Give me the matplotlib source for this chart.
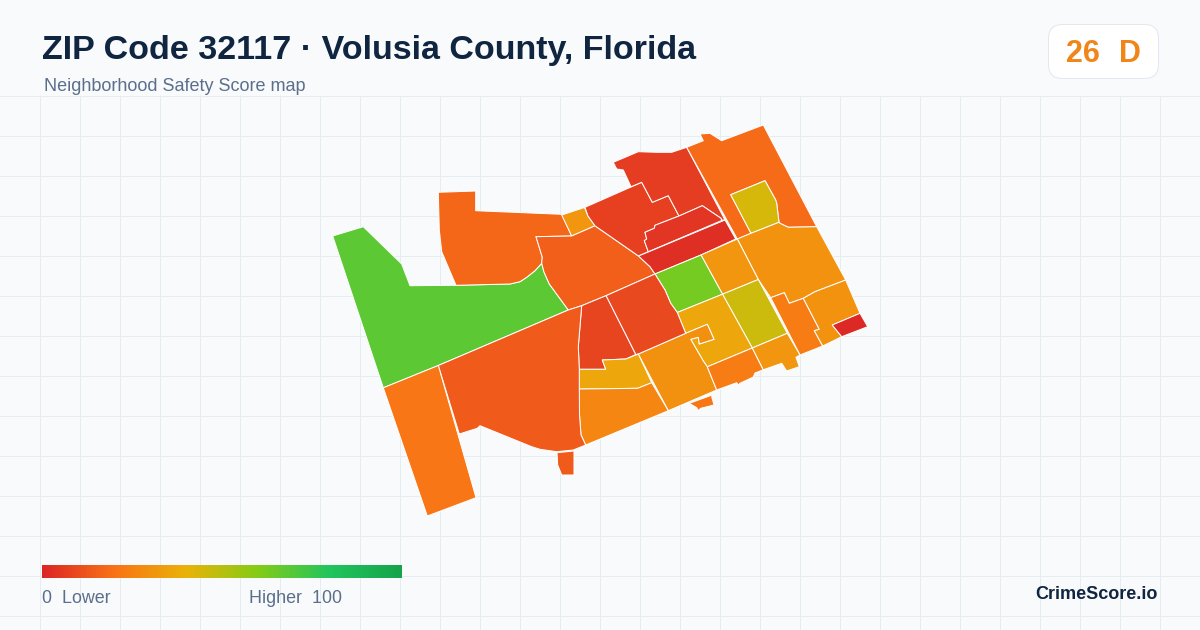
import numpy as np
import matplotlib
matplotlib.use("Agg")
import matplotlib.pyplot as plt
from matplotlib.colors import LinearSegmentedColormap
from matplotlib.patches import FancyBboxPatch, Polygon

plt.rcParams['font.family'] = ['Liberation Sans', 'DejaVu Sans']

TITLE = "ZIP Code 32117 · Volusia County, Florida"
SUBTITLE = "Neighborhood Safety Score map"
BADGE_SCORE = "26"
BADGE_GRADE = "D"
BRAND = "CrimeScore.io"
LEGEND_LEFT = "0  Lower"
LEGEND_RIGHT = "Higher  100"

stops = [0, .2, .4, .6, .8, 1]
stop_colors = ["#dc2626", "#f97316", "#eab308", "#84cc16", "#22c55e", "#16a34a"]
cmap = LinearSegmentedColormap.from_list("score", list(zip(stops, stop_colors)))

west_green = [(332.7,236),(363.3,226.7),(401.7,264),(410,285.7),(456,285.3),(510,284),(520,281.7),(526.7,277.3),(535,270.7),(541.7,263.3),(544,272),(549.3,284),(568.3,310),(438.3,365.5),(383.3,387.8)]
northwest = [(438.3,192.3),(475.7,191),(475.7,210.7),(561.7,214.3),(571.7,236),(536,236.7),(542.3,257.3),(541.7,263.3),(535,270.7),(526.7,277.3),(520,281.7),(510,284),(456,285.3),(441.7,251.7),(439.3,230)]
small_notch = [(561.7,215),(584.5,207.5),(588,216),(595,225.8),(571.7,236)]
north_center = [(536,236.7),(571.7,236),(595,225.8),(638.5,256),(650,266.7),(655,274),(606,295.7),(581.7,305.7),(568.3,310),(549.3,284),(544,272),(541.7,263.3),(542.3,257.3)]
north_red_west = [(585,207.3),(641.7,182.3),(652.3,202.3),(668.3,195.7),(679,216),(655,225.3),(654.3,228.3),(645,232.3),(646.7,239),(644.3,240.7),(648.3,251.7),(638.5,256),(595,225.8),(588,216)]
north_red_top = [(613.3,162.3),(638.3,151.7),(656.7,152.3),(671.7,152.3),(686.7,147.3),(725,220),(721.7,220),(721,218.3),(702.3,205.7),(679,216),(668.3,195.7),(652.3,202.3),(641.7,182.3),(631,186.7),(623.3,170),(616.7,169)]
north_red_inner = [(679,216),(702.3,205.7),(721,218.3),(721.7,220.5),(648.3,251.7),(644.3,240.7),(646.7,239),(645,232.3),(654.3,228.3),(655,225.3)]
north_red_band = [(648.3,252),(725,220),(735.7,239),(701,255),(655,274),(650,266.7),(638.5,256)]
northeast = [(686.7,147.3),(703.3,140.7),(700,134),(710,133.3),(721.7,140.7),(763.3,125),(816.7,226.7),(788.3,227.3),(780,223.3),(779,222.3),(776.7,203.3),(775.7,200),(765,180.7),(730.7,194.7),(751,233.3),(737.3,239)]
northeast_yellow = [(730.7,194.7),(765,180.7),(775.7,200),(776.7,203.3),(779,222.3),(751,233.3)]
east_large = [(737.3,239),(751,233.3),(779,222.3),(780,223.3),(788.3,227.3),(816.7,226.7),(845.7,280),(815,291.7),(803.3,298.3),(789.3,303.3),(784.3,292.7),(770.7,297.7),(758.3,279.5)]
east_block = [(701,255),(737.3,239),(758.3,279.5),(722.5,294.2)]
mid_green = [(655,274),(701,255),(722.5,294.2),(677.3,312.5),(670.7,303.3),(665,290)]
mid_olive = [(722.5,294.2),(758.3,279.5),(787.3,333.3),(752.3,348)]
mid_swirl_yellow = [(677.3,312.5),(722.5,294.2),(752.3,348),(707.3,366.8),(703.3,361),(690.7,339.3),(698.3,337.3),(699.3,344),(714,339.3),(707.3,324.3),(685.7,333.3)]
mid_swirl_orange = [(638.3,354),(685.7,333.3),(707.3,324.3),(714,339.3),(699.3,344),(698.3,337.3),(690.7,339.3),(703.3,361),(707.3,366.8),(716.7,390),(668.3,410.7)]
south_strip = [(707.3,366.8),(752.3,348),(763.3,369.8),(755,373),(753.3,377),(740,383.3),(738.3,385),(736.7,382.7),(716.7,390)]
south_island = [(689.3,403.3),(715,394),(711.7,396.7),(714,405),(700.7,408.3),(698.3,410.7),(696.7,407.7)]
center_east = [(606,295.7),(655,274),(665,290),(670.7,303.3),(677.3,312.5),(685.7,333.3),(638.3,354),(635.7,354.5)]
center_west = [(581.7,305.7),(606,295.7),(635.7,354.5),(626,359),(602.3,360),(605.7,369.3),(579.3,369.3),(578.3,346.7)]
center_yellow = [(579.3,369.3),(605.7,369.3),(602.3,360),(626,359),(638.3,354),(651.7,382.7),(637.7,388.3),(607.7,388.7),(579.3,389)]
center_south = [(579.3,389),(607.7,388.7),(637.7,388.3),(651.7,382.7),(668.3,410.7),(585.7,445),(581,435),(579.5,415)]
southwest_big = [(438.3,365.5),(568.3,310),(581.7,305.7),(578.3,346.7),(579.3,369.3),(579.3,389),(579.5,415),(581,435),(585.7,445),(573.3,450),(556.7,451.7),(540,449.3),(531.7,446.7),(480,425.7),(477.3,428.3),(459.3,434)]
south_wedge = [(557,452.7),(574,451),(574,475),(561.7,475),(557.7,465)]
southwest_strip = [(383.3,387.8),(438.3,365.5),(476,497.7),(427.3,516)]
se_orange = [(770.7,297.7),(784.3,292.7),(789.3,303.3),(803.3,298.3),(819.3,329.3),(814.3,330.7),(822.7,346),(800,355)]
se_block = [(803.3,298.3),(815,291.7),(845.7,280),(860,313.3),(832.3,325),(841.7,336.7),(822.7,346),(814.3,330.7),(819.3,329.3)]
se_red = [(832.3,325),(860,313.3),(867.7,326.7),(841.7,336.7)]
se_lower = [(752.3,348),(787.3,333.3),(800,355),(796,357.3),(799.3,366.7),(786.7,371),(781.7,363.3),(763.3,369.8)]

tracts = [west_green, northwest, small_notch, north_center, north_red_west, north_red_top,
          north_red_inner, north_red_band, northeast, northeast_yellow, east_large, east_block,
          mid_green, mid_olive, mid_swirl_yellow, mid_swirl_orange, south_strip, south_island,
          center_east, center_west, center_yellow, center_south, southwest_big, south_wedge,
          southwest_strip, se_orange, se_block, se_red, se_lower]
scores = [68, 17, 31, 15, 7, 6, 4, 2, 18, 44, 30, 31, 63, 46, 36, 29, 23, 21,
          9, 8, 36, 26, 14, 14, 21, 23, 30, 1, 31]

grid_x = np.arange(0, 1201, 40)
grid_y = np.arange(96, 631, 40)

fig = plt.figure(figsize=(12, 6.3), dpi=100, facecolor="#f8fafc")
ax = fig.add_axes([0, 0, 1, 1])
ax.set_facecolor("#f8fafc")

for x in grid_x[1:]:
    ax.plot([x + .5, x + .5], [96, 630], color="#e5edf3", lw=0.72, zorder=1, snap=False)
for y in grid_y:
    ax.plot([0, 1200], [y + .5, y + .5], color="#e5edf3", lw=0.72, zorder=1, snap=False)

for poly, score in zip(tracts, scores):
    ax.add_patch(Polygon(poly, closed=True, facecolor=cmap(score / 100), edgecolor="#ffffff",
                         lw=0.72, joinstyle="round", zorder=2))

ax.imshow(np.linspace(0, 1, 361)[None, :], cmap=cmap, extent=(42, 402, 578, 565), aspect="auto", zorder=3)

ax.text(42, 59, TITLE, fontsize=24.45, fontweight="bold", color="#0f2540", va="baseline", ha="left")
ax.text(44, 91, SUBTITLE, fontsize=12.95, color="#5b6f8c", va="baseline", ha="left")

ax.add_patch(FancyBboxPatch((1048.5, 24.5), 110, 54, boxstyle="round,pad=0,rounding_size=14",
                            fc="#ffffff", ec="#e2e8f0", lw=0.72, zorder=3))
ax.text(1083, 62, BADGE_SCORE, fontsize=22, fontweight="bold", color="#f0861a", va="baseline", ha="center", zorder=4)
ax.text(1130, 62, BADGE_GRADE, fontsize=22, fontweight="bold", color="#f0861a", va="baseline", ha="center", zorder=4)

ax.text(42, 603, LEGEND_LEFT, fontsize=12.9, color="#5b6f8c", va="baseline", ha="left")
ax.text(249, 603, LEGEND_RIGHT, fontsize=12.9, color="#5b6f8c", va="baseline", ha="left")
ax.text(1158, 599, BRAND, fontsize=13, fontweight="bold", color="#0f2540", va="baseline", ha="right")

ax.set_xlim(0, 1200)
ax.set_ylim(630, 0)
ax.axis("off")
fig.savefig("out.png", dpi=100, facecolor=fig.get_facecolor())
